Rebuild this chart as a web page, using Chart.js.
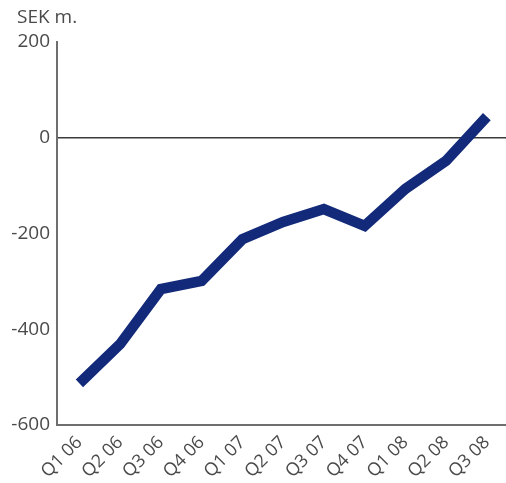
<!DOCTYPE html>
<html>
<head>
<meta charset="utf-8">
<script src="https://cdn.jsdelivr.net/npm/chart.js@4/dist/chart.umd.min.js"></script>
<style>
  html, body { margin: 0; padding: 0; background: #ffffff; }
  #wrap { width: 506px; height: 483px; }
</style>
</head>
<body>
<div id="wrap"><canvas id="c" width="506" height="483"></canvas></div>
<script>
// Quarterly result, SEK m.
const quarters = ['Q1 06', 'Q2 06', 'Q3 06', 'Q4 06', 'Q1 07', 'Q2 07', 'Q3 07', 'Q4 07', 'Q1 08', 'Q2 08', 'Q3 08'];
const result = [-513, -431, -316, -299, -212, -176, -149, -184, -107, -48, 44];
const yTicks = [200, 0, -200, -400, -600];
const unitLabel = 'SEK m.';

const points = result.map((v, i) => ({ x: i, y: v }));

// Unit caption above the value axis
const unitCaption = {
  id: 'unitCaption',
  afterDraw(chart) {
    const ctx = chart.ctx;
    ctx.save();
    ctx.font = '19px "Open Sans", sans-serif';
    ctx.fillStyle = '#4a4a4a';
    ctx.textAlign = 'left';
    ctx.textBaseline = 'alphabetic';
    ctx.fillText(unitLabel, 17, 23);
    ctx.restore();
  }
};

new Chart(document.getElementById('c'), {
  type: 'line',
  data: {
    datasets: [{
      data: points,
      borderColor: '#132a7a',
      borderWidth: 10.5,
      borderCapStyle: 'butt',
      borderJoinStyle: 'miter',
      pointRadius: 0,
      tension: 0,
      fill: false
    }]
  },
  options: {
    responsive: false,
    animation: false,
    layout: { padding: { top: 42, left: 0, right: 0, bottom: 0 } },
    plugins: {
      legend: { display: false },
      tooltip: { enabled: false }
    },
    scales: {
      x: {
        type: 'linear',
        min: -0.55,
        max: 10.47,
        afterBuildTicks(scale) {
          scale.ticks = quarters.map((_, i) => ({ value: i }));
        },
        afterFit(scale) {
          scale.height = 58;
          scale.paddingLeft = 0;
          scale.paddingRight = 0;
        },
        grid: { display: false, drawTicks: false },
        border: { display: true, color: '#6e6e6e', width: 2 },
        ticks: {
          autoSkip: false,
          minRotation: 45,
          maxRotation: 45,
          padding: 7,
          color: '#4a4a4a',
          font: { family: '"Open Sans", sans-serif', size: 18 },
          callback: (v) => quarters[v] ?? ''
        }
      },
      y: {
        min: -600,
        max: 200,
        afterBuildTicks(scale) {
          scale.ticks = yTicks.map(v => ({ value: v }));
        },
        afterFit(scale) { scale.width = 57; },
        grid: {
          drawTicks: false,
          color: (c) => c.tick && c.tick.value === 0 ? '#3a3a3a' : 'rgba(0,0,0,0)',
          lineWidth: (c) => c.tick && c.tick.value === 0 ? 1.6 : 0
        },
        border: { display: true, color: '#6e6e6e', width: 2 },
        ticks: {
          padding: 7,
          color: '#4a4a4a',
          font: { family: '"Open Sans", sans-serif', size: 19 }
        }
      }
    }
  },
  plugins: [unitCaption]
});
</script>
</body>
</html>
